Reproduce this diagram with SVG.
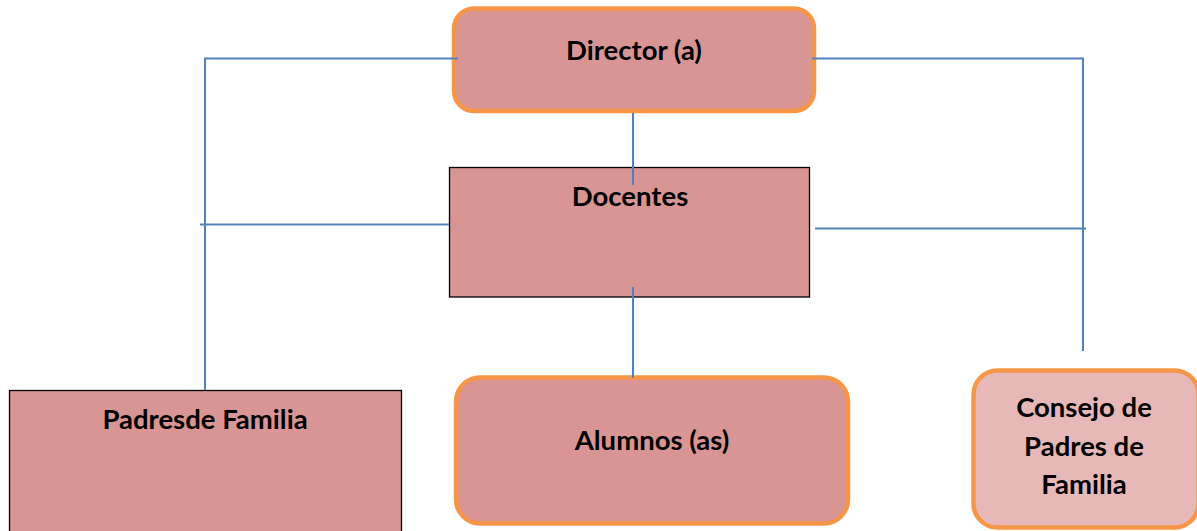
<svg xmlns="http://www.w3.org/2000/svg" width="1197" height="531" viewBox="0 0 1197 531">
<style>
.lbl{font-family:Lato,"Open Sans","Liberation Sans",sans-serif;font-weight:bold;font-size:27.5px;fill:#000;text-anchor:middle}
.rnd{fill:#D99594;stroke:#F79646;stroke-width:4.5}
.sq{fill:#D99594;stroke:#000;stroke-width:1.3}
.ln{fill:none;stroke:#4F81BD;stroke-width:2}
</style>
<rect width="1197" height="531" fill="#fff"/>
<g id="director">
<rect class="rnd" x="454" y="8.5" width="360" height="102.5" rx="20"/>
<text class="lbl" x="634" y="60">Director (a)</text>
</g>
<g id="docentes">
<rect class="sq" x="449.5" y="167.5" width="360" height="129.5"/>
<text class="lbl" x="630" y="206">Docentes</text>
</g>
<g id="padres">
<rect class="sq" x="9.5" y="390.5" width="392" height="145"/>
<text class="lbl" x="205" y="429">Padresde Familia</text>
</g>
<g id="alumnos">
<rect class="rnd" x="456" y="377.5" width="392" height="146" rx="24"/>
<text class="lbl" x="652" y="450">Alumnos (as)</text>
</g>
<g id="consejo">
<rect class="rnd" x="973.5" y="370.5" width="225" height="157" rx="24" style="fill:#E6B8B7"/>
<text class="lbl" x="1084" y="417">Consejo de</text>
<text class="lbl" x="1084" y="456">Padres de</text>
<text class="lbl" x="1084" y="494">Familia</text>
</g>
<g id="connectors">
<polyline class="ln" points="458,58.5 205,58.5 205,390"/>
<polyline class="ln" points="812,58.5 1083,58.5 1083,351"/>
<line class="ln" x1="633" y1="113" x2="633" y2="185"/>
<line class="ln" x1="200" y1="224.5" x2="449" y2="224.5"/>
<line class="ln" x1="815" y1="228.5" x2="1086" y2="228.5"/>
<line class="ln" x1="633" y1="287" x2="633" y2="378"/>
</g>
</svg>
